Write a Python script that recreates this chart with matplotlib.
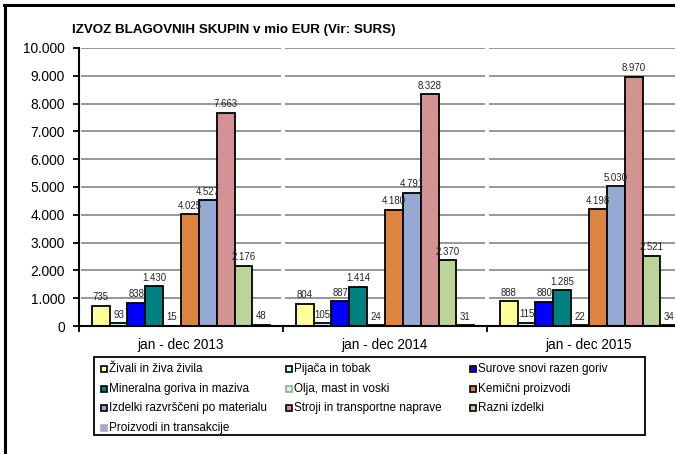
import matplotlib
matplotlib.use("Agg")
import matplotlib.pyplot as plt
from matplotlib.lines import Line2D
from matplotlib.patches import Rectangle
import numpy as np

plt.rcParams['font.family'] = ['Liberation Sans', 'DejaVu Sans']

title = "IZVOZ BLAGOVNIH SKUPIN v mio EUR (Vir: SURS)"
categories = ["jan - dec 2013", "jan - dec 2014", "jan - dec 2015"]
series_names = [
    "Živali in živa živila",
    "Pijača in tobak",
    "Surove snovi razen goriv",
    "Mineralna goriva in maziva",
    "Olja, mast in voski",
    "Kemični proizvodi",
    "Izdelki razvrščeni po materialu",
    "Stroji in transportne naprave",
    "Razni izdelki",
    "Proizvodi in transakcije",
]
zivali = [735, 804, 888]
pijaca = [93, 105, 115]
surove = [838, 887, 880]
mineralna = [1430, 1414, 1285]
olja = [15, 24, 22]
kemicni = [4025, 4180, 4198]
izdelki_mat = [4527, 4791, 5030]
stroji = [7663, 8328, 8970]
razni = [2176, 2370, 2521]
proizvodi = [48, 31, 34]
series_values = [zivali, pijaca, surove, mineralna, olja, kemicni,
                 izdelki_mat, stroji, razni, proizvodi]
colors = ["#FFFF99", "#CCFFFF", "#0000FF", "#008080", "#CCFFCC",
          "#DD8540", "#95A9D2", "#D49393", "#BCD39A", "#B3A2C7"]
y_ticks = [0, 1000, 2000, 3000, 4000, 5000, 6000, 7000, 8000, 9000, 10000]

def fmt(v):
    return f"{v:,}".replace(",", ".")

W, H = 675, 454
fig = plt.figure(figsize=(W / 100, H / 100), dpi=100)
ax = fig.add_axes([79/W, 128/H, 612/W, 278/H])

x = np.arange(len(categories))
n = len(series_names)
bw = 0.0875
for i, (name, vals, c) in enumerate(zip(series_names, series_values, colors)):
    pos = x + (i - (n - 1) / 2) * bw
    ax.bar(pos, vals, width=bw, color=c, edgecolor="black", linewidth=1.3,
           zorder=3, label=name)
    for px, v in zip(pos, vals):
        ax.annotate(fmt(v), (px, v), xytext=(0, 2.5), textcoords="offset points",
                    ha="center", va="bottom", fontsize=6.9, color="#222222",
                    zorder=5)

# gridlines with small gaps at category boundaries
gap = 0.012
for g in range(len(categories)):
    ax.hlines(y_ticks[1:], g - 0.5 + gap, g + 0.5 - gap, colors="#8f8f8f",
              linewidth=1.3, zorder=0)

ax.set_xlim(-0.5, len(categories) - 0.5)
ax.set_ylim(0, 10000)
ax.set_yticks(y_ticks)
ax.set_yticklabels([fmt(t) for t in y_ticks], fontsize=9.9)
ax.set_xticks(x)
ax.set_xticklabels(categories, fontsize=9.8)
ax.set_xticks(np.arange(len(categories) + 1) - 0.5, minor=True)
ax.tick_params(axis="x", which="major", length=0, pad=9)
ax.tick_params(axis="x", which="minor", length=4, width=1.3, direction="out")
ax.tick_params(axis="y", length=4, width=1.3, direction="out", pad=6)
for s in ["top", "right"]:
    ax.spines[s].set_visible(False)
for s in ["left", "bottom"]:
    ax.spines[s].set_linewidth(1.5)
    ax.spines[s].set_zorder(4)

fig.text(72/W, 1 - 30/H, title, fontsize=9.6, fontweight="bold",
         ha="left", va="center")

# legend drawn manually (fixed column grid as in the reference)
fig.add_artist(Rectangle((94/W, 1 - 435/H), (645 - 94)/W, (435 - 357)/H,
                         transform=fig.transFigure, facecolor="white",
                         edgecolor="black", linewidth=1.3))
col_x = [104, 289, 473]
row_y = [369, 389, 408, 428]
for i, (name, c) in enumerate(zip(series_names, colors)):
    r, k = divmod(i, 3)
    px, py = col_x[k], row_y[r]
    ec = "black"
    if i == 4:
        ec = "#9aa59a"
    if i == 9:
        ec = c
    fig.add_artist(Line2D([px / W], [1 - py / H], marker="s", linestyle="None",
                          markersize=4, markerfacecolor=c, markeredgecolor=ec,
                          markeredgewidth=1.2, transform=fig.transFigure))
    fig.text((px + 5) / W, 1 - py / H, name, fontsize=8.5, ha="left",
             va="center")

# outer frame (cropped at right and bottom)
fig.add_artist(Line2D([4/W, 1.0], [1 - 5/H, 1 - 5/H], color="black",
                      linewidth=2.2, transform=fig.transFigure))
fig.add_artist(Line2D([4.5/W, 4.5/W], [0, 1 - 5/H], color="black",
                      linewidth=2.2, transform=fig.transFigure))

fig.savefig("out.png", dpi=100)
